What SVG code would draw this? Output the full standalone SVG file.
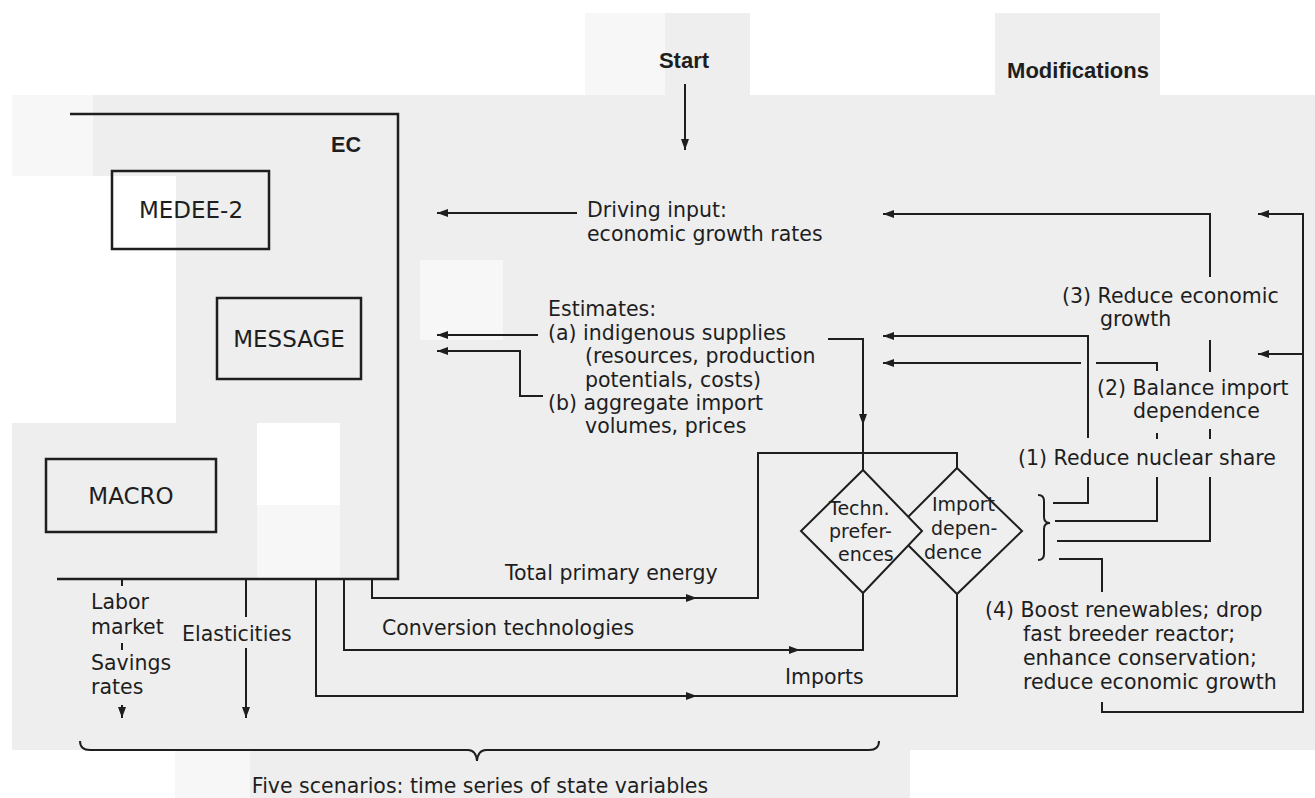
<svg xmlns="http://www.w3.org/2000/svg" width="1315" height="798" viewBox="0 0 1315 798">
<style>
 .t{font-family:"DejaVu Sans",sans-serif;font-size:20.5px;fill:#1e1e1e}
 .d{font-family:"DejaVu Sans",sans-serif;font-size:19px;fill:#1e1e1e}
 .b{font-family:"Liberation Sans",Arial,sans-serif;font-weight:bold;fill:#1e1e1e}
 .m{font-family:"DejaVu Sans",sans-serif;font-size:23px;fill:#1e1e1e;text-anchor:middle}
 .ln{fill:none;stroke:#1e1e1e;stroke-width:2}
 .box{fill:none;stroke:#1e1e1e;stroke-width:2.5}
 .dm{fill:#efefef;stroke:#1e1e1e;stroke-width:2}
 .g{fill:#eeeeee}
 .w{fill:#ffffff}
 .l{fill:#f7f7f7}
</style>
<defs>
 <marker id="a" viewBox="0 0 11 8" refX="11" refY="4" markerWidth="11" markerHeight="8" markerUnits="userSpaceOnUse" orient="auto"><path d="M0,0 L11,4 L0,8 Z" fill="#1e1e1e"/></marker>
 <path id="tr" d="M0,0 L-11,-4 L-11,4 Z" fill="#1e1e1e"/>
</defs>
<g id="background">
 <rect width="1315" height="798" class="w"/>
 <rect x="12" y="95" width="1303" height="655" class="g"/>
 <rect x="12" y="95" width="81" height="81" class="l"/>
 <rect x="12" y="176" width="164" height="247" class="w"/>
 <rect x="257" y="423" width="83" height="82" class="w"/>
 <rect x="257" y="505" width="83" height="75" class="l"/>
 <rect x="420" y="260" width="83" height="80" class="l"/>
 <rect x="585" y="13" width="80" height="82" class="l"/>
 <rect x="665" y="13" width="85" height="82" class="g"/>
 <rect x="995" y="13" width="165" height="82" class="g"/>
 <rect x="175" y="750" width="735" height="48" class="g"/>
 <rect x="175" y="750" width="75" height="48" class="l"/>
</g>
<g id="ec">
 <path class="box" d="M70,114 H398 V579 H57"/>
 <text class="b" x="331" y="152" font-size="21.6">EC</text>
</g>
<g id="medee2">
 <rect class="box" x="112" y="171" width="157" height="78"/>
 <text class="m" x="191" y="218">MEDEE-2</text>
</g>
<g id="message">
 <rect class="box" x="217" y="298" width="144" height="81"/>
 <text class="m" x="289" y="347">MESSAGE</text>
</g>
<g id="macro">
 <rect class="box" x="46" y="459" width="170" height="73"/>
 <text class="m" x="131" y="504">MACRO</text>
</g>
<g id="start">
 <text class="b" x="684" y="68" font-size="22" text-anchor="middle">Start</text>
</g>
<g id="modifications">
 <text class="b" x="1078" y="78" font-size="22" text-anchor="middle">Modifications</text>
</g>
<g id="import-dependence">
 <path class="dm" d="M957,468 L1022,531 L957,594 L894,531 Z"/>
 <text class="d" x="932" y="511">Import</text>
 <text class="d" x="931" y="535">depen-</text>
 <text class="d" x="924" y="559">dence</text>
</g>
<g id="techn-preferences">
 <path class="dm" d="M863,470 L922,531 L863,593 L801,531 Z"/>
 <text class="d" x="829" y="515">Techn.</text>
 <text class="d" x="829" y="538">prefer-</text>
 <text class="d" x="838" y="561">ences</text>
</g>
<g id="driving-input">
 <text class="t" x="587" y="217">Driving input:</text>
 <text class="t" x="587" y="241">economic growth rates</text>
</g>
<g id="estimates">
 <text class="t" x="548" y="316">Estimates:</text>
 <text class="t" x="548" y="340">(a) indigenous supplies</text>
 <text class="t" x="585" y="363">(resources, production</text>
 <text class="t" x="585" y="387">potentials, costs)</text>
 <text class="t" x="548" y="410">(b) aggregate import</text>
 <text class="t" x="585" y="433">volumes, prices</text>
</g>
<g id="mod3">
 <text class="t" x="1062" y="303">(3) Reduce economic</text>
 <text class="t" x="1100" y="326">growth</text>
</g>
<g id="mod2">
 <text class="t" x="1097" y="395">(2) Balance import</text>
 <text class="t" x="1133" y="418">dependence</text>
</g>
<g id="mod1">
 <text class="t" x="1018" y="465">(1) Reduce nuclear share</text>
</g>
<g id="mod4">
 <text class="t" x="985" y="617">(4) Boost renewables; drop</text>
 <text class="t" x="1023" y="641">fast breeder reactor;</text>
 <text class="t" x="1023" y="665">enhance conservation;</text>
 <text class="t" x="1023" y="689">reduce economic growth</text>
</g>
<g id="flow-labels">
 <text class="t" x="505" y="580">Total primary energy</text>
 <text class="t" x="382" y="635">Conversion technologies</text>
 <text class="t" x="785" y="684">Imports</text>
 <text class="t" x="91" y="609">Labor</text>
 <text class="t" x="91" y="634">market</text>
 <text class="t" x="91" y="670">Savings</text>
 <text class="t" x="91" y="694">rates</text>
 <text class="t" x="182" y="641">Elasticities</text>
</g>
<g id="scenarios">
 <text class="t" x="480" y="793" text-anchor="middle">Five scenarios: time series of state variables</text>
</g>
<g id="connectors">
 <path class="ln" d="M685,84 V150" marker-end="url(#a)"/>
 <path class="ln" d="M577,213 H437" marker-end="url(#a)"/>
 <path class="ln" d="M538,335 H437" marker-end="url(#a)"/>
 <path class="ln" d="M543,396 H520 V351 H437" marker-end="url(#a)"/>
 <path class="ln" d="M828,339 H863 V470"/>
 <use href="#tr" transform="translate(863,425) rotate(90)"/>
 <path class="ln" d="M372,579 V598 H758 V453 H957 V468"/>
 <use href="#tr" transform="translate(697,598)"/>
 <path class="ln" d="M344,579 V650 H863 V593"/>
 <use href="#tr" transform="translate(800,650)"/>
 <path class="ln" d="M316,579 V696 H957 V594"/>
 <use href="#tr" transform="translate(697,696)"/>
 <path class="ln" d="M122,579 V586 M122,643 V650"/>
 <path class="ln" d="M122,705 V718" marker-end="url(#a)"/>
 <path class="ln" d="M246,579 V617"/>
 <path class="ln" d="M246,648 V718" marker-end="url(#a)"/>
 <path class="ln" d="M1210,277 V214 H883" marker-end="url(#a)"/>
 <path class="ln" d="M1088,438 V336 H883" marker-end="url(#a)"/>
 <path class="ln" d="M1157,371 V363 H1096"/>
 <path class="ln" d="M1081,363 H883" marker-end="url(#a)"/>
 <path class="ln" d="M1210,340 V372 M1157,433 V439 M1210,429 V439"/>
 <path class="ln" d="M1088,477 V503 H1053 M1157,477 V521 H1055 M1210,477 V541 H1057"/>
 <path class="ln" d="M1059,559 H1102 V592"/>
 <path class="ln" d="M1102,702 V712 H1303 V214 H1258" marker-end="url(#a)"/>
 <path class="ln" d="M1303,354 H1258" marker-end="url(#a)"/>
 <path class="ln" d="M1038,495 Q1044,495 1044,501 V517 Q1044,523 1050,523 Q1044,523 1044,529 V554 Q1044,560 1038,560"/>
 <path class="ln" d="M80,741 Q80,750 90,750 H468 Q476,750 477,761 Q478,750 486,750 H869 Q879,750 879,741"/>
</g>
</svg>
